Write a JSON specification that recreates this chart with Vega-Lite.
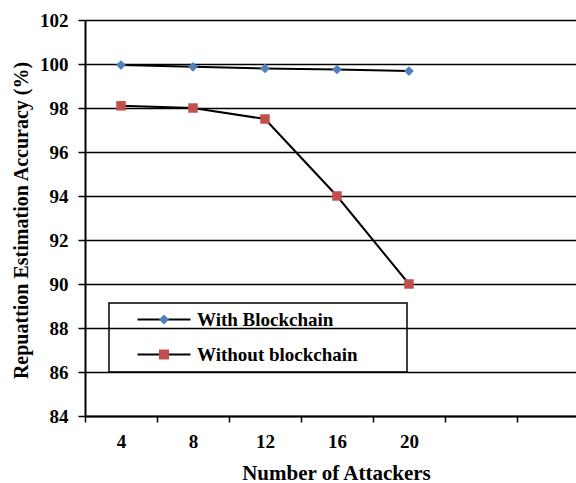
{
  "$schema": "https://vega.github.io/schema/vega-lite/v6.json",
  "width": 491,
  "height": 396,
  "autosize": "none",
  "padding": {"left": 85, "top": 20, "right": 0, "bottom": 67},
  "background": "white",
  "config": {
    "font": "Liberation Serif",
    "view": {"stroke": null},
    "axis": {
      "labelFont": "Liberation Serif",
      "labelFontWeight": "bold",
      "labelFontSize": 19,
      "labelColor": "#000000",
      "titleFont": "Liberation Serif",
      "titleFontWeight": "bold",
      "titleFontSize": 21,
      "titleColor": "#000000",
      "domainColor": "#000000",
      "domainWidth": 2,
      "tickColor": "#000000",
      "tickWidth": 1.5
    }
  },
  "data": {
    "values": [
      {"attackers": 4, "accuracy": 99.95, "series": "With Blockchain"},
      {"attackers": 8, "accuracy": 99.87, "series": "With Blockchain"},
      {"attackers": 12, "accuracy": 99.8, "series": "With Blockchain"},
      {"attackers": 16, "accuracy": 99.75, "series": "With Blockchain"},
      {"attackers": 20, "accuracy": 99.68, "series": "With Blockchain"},
      {"attackers": 4, "accuracy": 98.1, "series": "Without blockchain"},
      {"attackers": 8, "accuracy": 98.0, "series": "Without blockchain"},
      {"attackers": 12, "accuracy": 97.5, "series": "Without blockchain"},
      {"attackers": 16, "accuracy": 94.0, "series": "Without blockchain"},
      {"attackers": 20, "accuracy": 90.0, "series": "Without blockchain"}
    ]
  },
  "encoding": {
    "x": {
      "field": "attackers",
      "type": "quantitative",
      "scale": {"domain": [2, 29.28], "nice": false, "zero": false},
      "axis": {
        "title": "Number of Attackers",
        "values": [2, 6, 10, 14, 18, 22, 26],
        "labelExpr": "datum.value <= 18 ? '' + (datum.value + 2) : ''",
        "labelOffset": 36,
        "labelAlign": "center",
        "labelPadding": 10,
        "tickSize": 6,
        "grid": false,
        "titleX": 251,
        "titleY": 63,
        "titleAlign": "center",
        "titleBaseline": "alphabetic"
      }
    },
    "y": {
      "field": "accuracy",
      "type": "quantitative",
      "scale": {"domain": [84, 102], "nice": false, "zero": false},
      "axis": {
        "title": "Repuattion Estimation Accuracy (%)",
        "values": [84, 86, 88, 90, 92, 94, 96, 98, 100, 102],
        "tickSize": 7,
        "labelPadding": 10,
        "grid": true,
        "gridColor": "#000000",
        "gridWidth": 1.5,
        "gridOpacity": 1,
        "titleFontSize": 20,
        "titleX": -58,
        "titleY": 200,
        "titleAngle": -90,
        "titleAlign": "center",
        "titleBaseline": "alphabetic"
      }
    }
  },
  "layer": [
    {
      "mark": {"type": "line", "strokeWidth": 2},
      "encoding": {
        "stroke": {
          "field": "series",
          "type": "nominal",
          "scale": {"domain": ["With Blockchain", "Without blockchain"], "range": ["#000000", "#000000"]},
          "legend": {
            "orient": "none",
            "legendX": 24,
            "legendY": 283,
            "title": null,
            "padding": 7,
            "strokeColor": "#000000",
            "symbolType": "M2.4,0H13M54,0",
            "symbolSize": 100,
            "symbolStrokeWidth": 2,
            "labelFont": "Liberation Serif",
            "labelFontSize": 19,
            "labelFontWeight": "bold",
            "labelColor": "#000000",
            "labelLimit": 400,
            "labelOffset": 62,
            "rowPadding": 15,
            "encode": {"legend": {"update": {"strokeWidth": {"value": 1.5}}}}
          }
        }
      }
    },
    {
      "transform": [{"filter": "datum.series === 'With Blockchain'"}],
      "mark": {"type": "point", "filled": true, "opacity": 1, "size": 95, "shape": "diamond"},
      "encoding": {
        "fill": {
          "field": "series",
          "type": "nominal",
          "scale": {"range": ["#4F81BD", "#C0504D"]},
          "legend": {
            "orient": "none",
            "legendX": 24,
            "legendY": 283,
            "title": null,
            "padding": 7,
            "symbolSize": 100,
            "symbolStrokeWidth": 0,
            "symbolOpacity": 1,
            "labelFontSize": 19,
            "labelExpr": "''",
            "labelOffset": 62,
            "rowPadding": 15,
            "encode": {
              "symbols": {
                "update": {
                  "shape": {"signal": "datum.value === 'With Blockchain' ? 'M6.7,0L7.7,-1L8.7,0L7.7,1Z' : 'M6.7,-1H8.7V1H6.7Z'"}
                }
              }
            }
          }
        }
      }
    },
    {
      "transform": [{"filter": "datum.series === 'Without blockchain'"}],
      "mark": {"type": "point", "filled": true, "opacity": 1, "size": 90, "shape": "square"},
      "encoding": {
        "fill": {
          "field": "series",
          "type": "nominal",
          "scale": {"range": ["#4F81BD", "#C0504D"]},
          "legend": {
            "orient": "none",
            "legendX": 24,
            "legendY": 283,
            "title": null,
            "padding": 7,
            "symbolSize": 100,
            "symbolStrokeWidth": 0,
            "symbolOpacity": 1,
            "labelFontSize": 19,
            "labelExpr": "''",
            "labelOffset": 62,
            "rowPadding": 15,
            "encode": {
              "symbols": {
                "update": {
                  "shape": {"signal": "datum.value === 'With Blockchain' ? 'M6.7,0L7.7,-1L8.7,0L7.7,1Z' : 'M6.7,-1H8.7V1H6.7Z'"}
                }
              }
            }
          }
        }
      }
    }
  ]
}
